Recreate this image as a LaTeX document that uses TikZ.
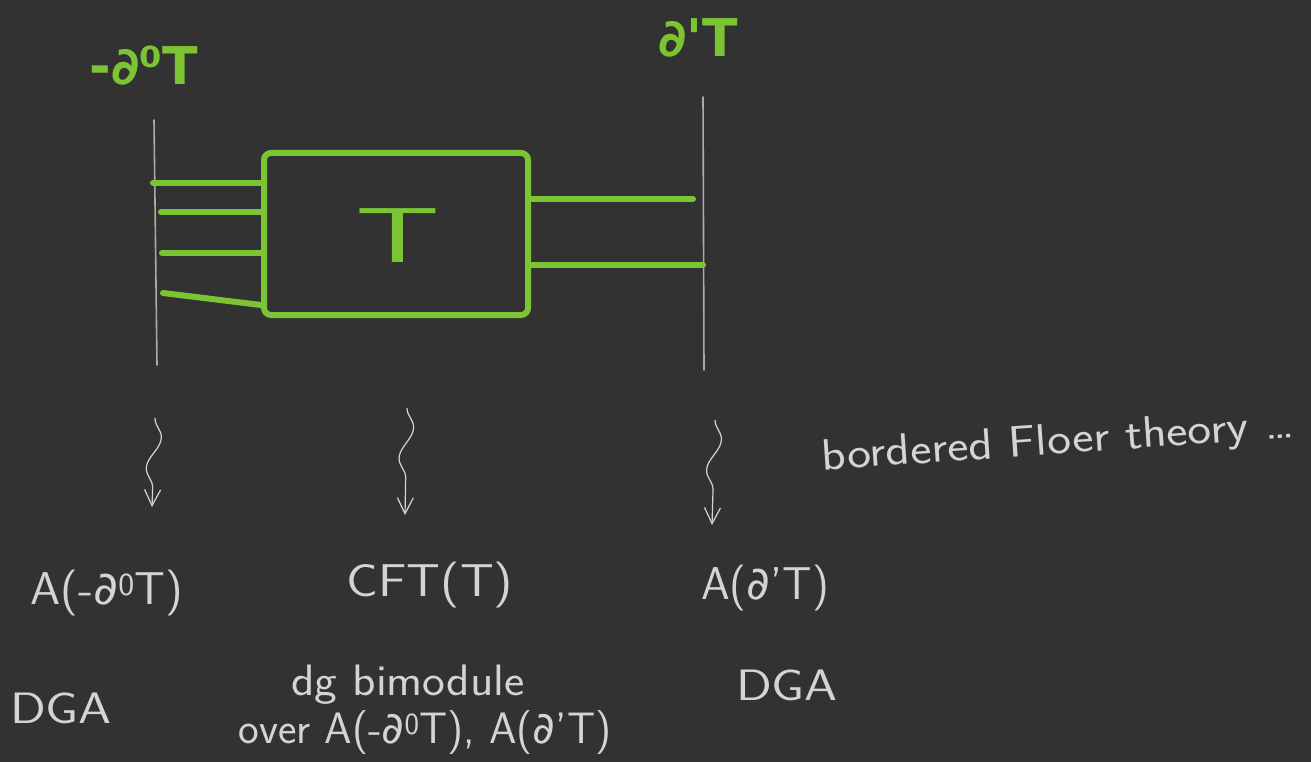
\documentclass[tikz,border=0pt]{standalone}
\usepackage{fontspec}
\newfontfamily\marker{DejaVu Sans}
\usetikzlibrary{decorations.pathmorphing, arrows.meta}
\definecolor{board}{RGB}{50,50,50}
\definecolor{chalkgreen}{RGB}{124,196,52}
\definecolor{pencil}{RGB}{170,170,170}
\definecolor{ink}{RGB}{212,212,212}
\newcommand{\bd}{{\marker ∂}}
\begin{document}
\begin{tikzpicture}[x=1pt,y=-1pt,
  greenlabel/.style={text=chalkgreen, font=\marker\bfseries\fontsize{52}{56}\selectfont, inner sep=0},
  strand/.style={draw=chalkgreen, line width=6, line cap=round},
  boundary/.style={draw=pencil, line width=1.6, line cap=round},
  tbox/.style={draw=chalkgreen, line width=6, rounded corners=7, minimum width=264, minimum height=162, inner sep=0},
  tletter/.style={text=chalkgreen, font=\sffamily\fontsize{78}{78}\selectfont, inner sep=0, xscale=1.7},
  squig/.style={draw=ink, line width=1.2, decorate,
    decoration={snake, amplitude=7, segment length=62, post length=14},
    -{Straight Barb[length=16,width=16]}},
  hand/.style={text=ink, font=\sffamily\fontsize{46}{50}\selectfont, inner sep=0},
  small/.style={text=ink, font=\sffamily\fontsize{44}{48}\selectfont, inner sep=0},
]
% dark board
\fill[board] (0,0) rectangle (1311,762);
\useasboundingbox (0,0) rectangle (1311,762);

% boundary labels
\node[greenlabel] (lbl0) at (144,66) {-∂⁰T};
\node[greenlabel] (lbl1) at (698,38) {∂'T};

% the two boundary lines
\coordinate (L0top) at (154,120);
\coordinate (L0bot) at (157,365);
\coordinate (L1top) at (703,97);
\coordinate (L1bot) at (704,370);
\draw[boundary] (L0top) -- (L0bot);
\draw[boundary] (L1top) -- (L1bot);

% the tangle box and its label
\node[tbox] (box) at (396,234) {};
\node[tletter] (tl) at (398,236) {T};

% strands to the left boundary
\coordinate (s1) at (153,183);
\coordinate (s2) at (161,212);
\coordinate (s3) at (162,253);
\coordinate (s4) at (163,293);
\draw[strand] (s1) -- (box.west |- s1);
\draw[strand] (s2) -- (box.west |- s2);
\draw[strand] (s3) -- (box.west |- s3);
\draw[strand] (s4) -- ([yshift=-12pt]box.west |- s4);

% strands to the right boundary
\coordinate (r1) at (693,199);
\coordinate (r2) at (703,265);
\draw[strand] (box.east |- r1) -- (r1);
\draw[strand] (box.east |- r2) -- (r2);

% the algebraic objects
\node[hand, xscale=1.05] (A0) at (107,593) {A(-\bd\textsuperscript{0}T)};
\node[hand, xscale=1.15] (CFT) at (430,585) {CFT(T)};
\node[hand] (A1) at (765,588) {A(\bd'T)};
\node[small, xscale=1.2] (dga0) at (61,708) {DGA};
\node[small, xscale=1.1] (bimod) at (408,685) {dg bimodule};
\node[small] (over) at (425,733) {over A(-\bd\textsuperscript{0}T), A(\bd'T)};
\node[small, xscale=1.2] (dga1) at (787,685) {DGA};
\node[small, rotate=4, xscale=1.15] (bft) at (1058,443) {bordered Floer theory \dots};

% squiggly arrows
\coordinate (q0s) at (155,418);
\coordinate (q0e) at (152,507);
\coordinate (q1s) at (407,408);
\coordinate (q1e) at (405,515);
\coordinate (q2s) at (715,420);
\coordinate (q2e) at (712,525);
\draw[squig] (q0s) -- (q0e);
\draw[squig] (q1s) -- (q1e);
\draw[squig] (q2s) -- (q2e);
\end{tikzpicture}
\end{document}
